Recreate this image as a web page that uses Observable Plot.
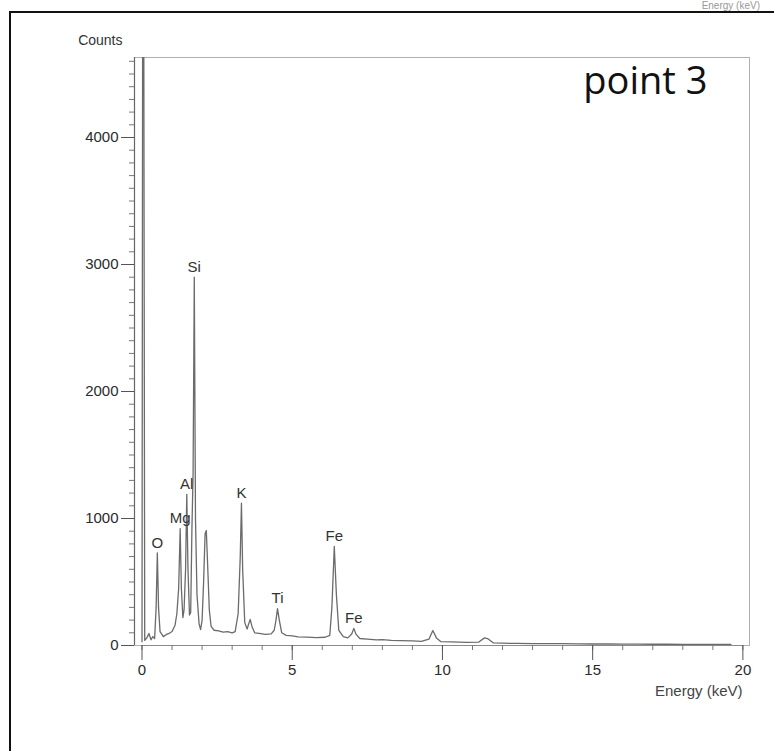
<!DOCTYPE html>
<html><head><meta charset="utf-8">
<script src="https://cdn.jsdelivr.net/npm/d3@7"></script>
<script src="https://cdn.jsdelivr.net/npm/@observablehq/plot@0.6"></script>
<style>
body{margin:0;background:#fff;}
#wrap{position:relative;width:774px;height:751px;overflow:hidden;background:#fff;}
#frame{position:absolute;left:9px;top:11px;width:820px;height:820px;border-left:2px solid #111;border-top:2px solid #111;box-sizing:border-box;}
#ghost{position:absolute;right:14px;top:0px;font:10px "Liberation Sans",Arial,sans-serif;color:#999;line-height:11px;}
#wrap svg{position:absolute;left:0;top:0;}
</style></head><body><div id="wrap"><div id="ghost">Energy (keV)</div><div id="frame"></div></div>
<script>
// Spectrum (energy in keV, counts)
const energy = [
  0.00,0.02,0.06,0.09,0.16,0.23,0.30,0.36,0.42,0.47,
  0.51,0.55,0.60,0.64,0.71,0.80,0.90,1.00,1.10,1.16,
  1.22,1.27,1.31,1.36,1.40,1.45,1.49,1.53,1.58,1.62,
  1.66,1.70,1.74,1.78,1.83,1.90,1.95,2.00,2.05,2.10,
  2.14,2.19,2.24,2.30,2.40,2.55,2.70,2.85,3.00,3.10,
  3.20,3.27,3.31,3.35,3.42,3.50,3.55,3.60,3.66,3.75,
  3.90,4.10,4.30,4.40,4.46,4.51,4.57,4.65,4.80,5.00,
  5.20,5.50,5.80,6.10,6.25,6.32,6.40,6.47,6.55,6.70,
  6.85,6.98,7.05,7.12,7.25,7.50,7.80,8.00,8.30,8.60,
  9.00,9.30,9.55,9.68,9.80,9.95,10.30,10.80,11.20,11.40,
  11.50,11.70,12.00,12.50,13.00,13.50,14.00,14.50,15.00,15.50,
  16.00,16.50,17.00,17.50,18.00,18.50,19.00,19.60
];
const counts = [
  30,4700,4700,40,60,95,45,70,55,300,
  730,300,110,95,70,85,95,110,160,250,
  450,920,450,220,280,600,1190,600,240,260,
  900,1350,2900,1000,400,170,125,200,500,880,
  905,600,280,150,120,115,105,110,100,110,
  250,700,1120,600,180,130,170,205,150,100,
  95,88,92,120,200,290,200,100,80,75,
  68,66,62,65,80,300,780,400,120,70,
  60,90,135,90,55,50,44,46,40,38,
  36,32,50,118,60,30,28,25,26,60,
  55,20,18,16,15,14,14,13,12,12,
  11,11,10,10,9,9,8,8
];
// Element peak labels
const elements      = ["O",  "Mg", "Al", "Si", "K",  "Ti", "Fe", "Fe"];
const elementEnergy = [0.51, 1.27, 1.49, 1.74, 3.31, 4.51, 6.40, 7.05];
const elementCounts = [730,  920,  1190, 2900, 1120, 290,  780,  135];
// Axis ticks
const xTicks = [0, 5, 10, 15, 20];
const yTicks = [0, 1000, 2000, 3000, 4000];
const title = "point 3";

const font = '"Liberation Sans", Arial, sans-serif';
const data = energy.map((e, i) => ({e, c: counts[i]}));
const idx = d3.range(elements.length);

const chart = Plot.plot({
  width: 774, height: 751,
  marginLeft: 134, marginRight: 25, marginTop: 57, marginBottom: 106,
  style: {fontFamily: font, background: "transparent", color: "#2a2a2a"},
  x: {domain: [-0.25, 20.22]},
  y: {domain: [0, 4630]},
  marks: [
    Plot.frame({stroke: "#b0b0b0", strokeWidth: 1}),
    Plot.ruleX([-0.25], {stroke: "#666", strokeWidth: 1.2}),
    Plot.ruleY([0], {x1: 0, x2: 20, stroke: "#8a8a8a"}),
    // minor ticks
    Plot.axisY({ticks: d3.range(0, 4601, 100), tickSize: 5, tickFormat: () => "", stroke: "#777", label: null}),
    Plot.axisX({ticks: d3.range(0, 21, 1), tickSize: 5, tickFormat: () => "", stroke: "#777", label: null}),
    // major ticks
    Plot.axisY({ticks: yTicks, tickSize: 13, tickPadding: 3, tickFormat: d => String(d), fontSize: 15, stroke: "#555", label: null}),
    Plot.axisX({ticks: xTicks, tickSize: 15, tickPadding: 4, tickFormat: d => String(d), fontSize: 15, stroke: "#555", label: null}),
    Plot.line(data, {x: "e", y: "c", stroke: "#6b6b6b", strokeWidth: 1.3, clip: true}),
    Plot.text(idx, {x: i => elementEnergy[i], y: i => elementCounts[i], text: i => elements[i],
      dy: -10, lineAnchor: "middle", fontSize: 15, fill: "#333"}),
    Plot.text(["Counts"], {frameAnchor: "top-left", dx: -12, dy: -17, textAnchor: "end", lineAnchor: "middle", fontSize: 14, fill: "#333"}),
    Plot.text(["Energy (keV)"], {frameAnchor: "bottom-right", dx: -7, dy: 46, textAnchor: "end", lineAnchor: "middle", fontSize: 15, fill: "#444"}),
    Plot.text([title], {frameAnchor: "top-right", dx: -42, dy: 24, textAnchor: "end", lineAnchor: "middle",
      fontSize: 38, fill: "#111", fontFamily: '"Open Sans", "Noto Sans", sans-serif'})
  ]
});
document.getElementById("wrap").appendChild(chart);
</script>
</body></html>
